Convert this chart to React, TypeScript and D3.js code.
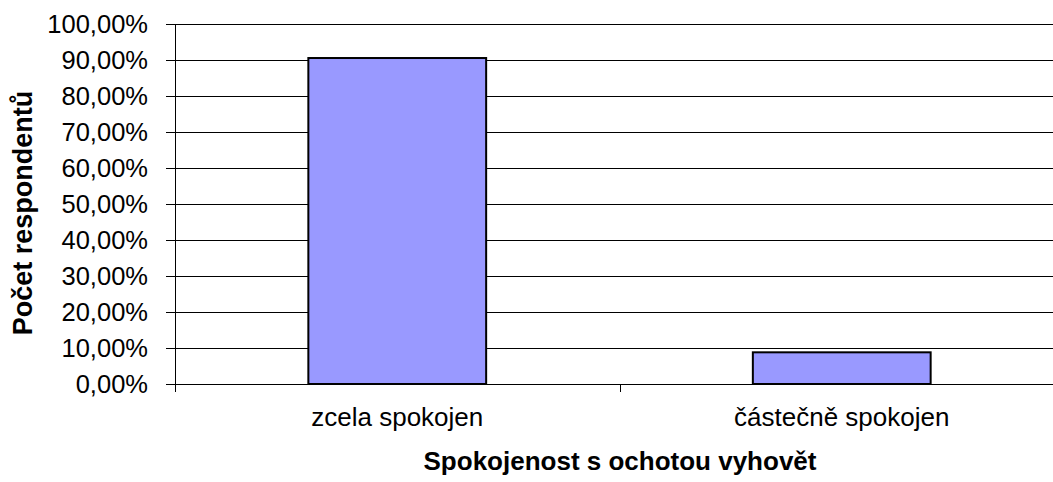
import React from "react";
import * as d3 from "d3";

const W = 1053;
const H = 482;
const MARGIN = { top: 24, right: -11, bottom: 98, left: 175 };

const categories = ["zcela spokojen", "částečně spokojen"];
const values = [90.55, 8.8];
const yTicks = [0, 10, 20, 30, 40, 50, 60, 70, 80, 90, 100];

const FONT = "'Liberation Sans', Arial, sans-serif";

export default function App() {
  const innerW = W - MARGIN.left - MARGIN.right;
  const innerH = H - MARGIN.top - MARGIN.bottom;

  const x = d3
    .scaleBand<string>()
    .domain(categories)
    .range([0, innerW])
    .paddingInner(0.6)
    .paddingOuter(0.3);
  const y = d3.scaleLinear().domain([0, 100]).range([innerH, 0]);

  const fmt = (v: number) => v.toFixed(2).replace(".", ",") + "%";
  const step = x.step();
  const catTicks = d3.range(categories.length + 1).map((i) => i * step);

  return (
    <svg
      width={W}
      height={H}
      style={{ position: "absolute", left: 0, top: 0, background: "#fff" }}
      fontFamily={FONT}
    >
      <g transform={`translate(${MARGIN.left},${MARGIN.top})`}>
        {yTicks.map((t) => (
          <g key={t} transform={`translate(0,${Math.round(y(t)) + 0.5})`}>
            <line x1={-9} x2={innerW} stroke="#000" strokeWidth={1} />
            <text x={-27} dy="0.35em" textAnchor="end" fontSize={25.5} fill="#000">
              {fmt(t)}
            </text>
          </g>
        ))}
        <line x1={0.5} x2={0.5} y1={0} y2={innerH + 8} stroke="#000" />
        {catTicks.map((t, i) => (
          <line
            key={i}
            x1={Math.round(t) + 0.5}
            x2={Math.round(t) + 0.5}
            y1={innerH}
            y2={innerH + 8}
            stroke="#000"
          />
        ))}
        {categories.map((c, i) => (
          <g key={c}>
            <rect
              x={x(c)!}
              y={y(values[i])}
              width={x.bandwidth()}
              height={innerH - y(values[i])}
              fill="#9999FF"
              stroke="#000"
              strokeWidth={2}
            />
            <text
              x={x(c)! + x.bandwidth() / 2}
              y={innerH + 42}
              textAnchor="middle"
              fontSize={26}
              fill="#000"
            >
              {c}
            </text>
          </g>
        ))}
      </g>
      <text
        x={620}
        y={470}
        textAnchor="middle"
        fontSize={26}
        fontWeight="bold"
        fill="#000"
      >
        Spokojenost s ochotou vyhovět
      </text>
      <text
        transform={`translate(32,213) rotate(-90)`}
        textAnchor="middle"
        fontSize={27}
        fontWeight="bold"
        fill="#000"
      >
        Počet respondentů
      </text>
    </svg>
  );
}
